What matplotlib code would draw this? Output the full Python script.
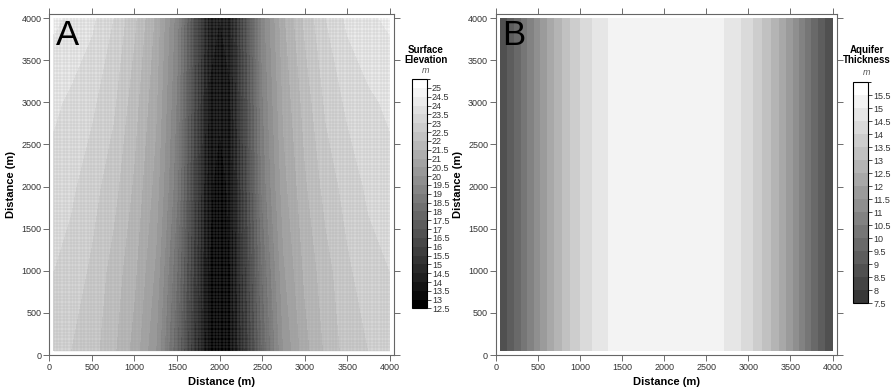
import numpy as np
import matplotlib
matplotlib.use("Agg")
import matplotlib.pyplot as plt
from matplotlib.colors import ListedColormap, BoundaryNorm
from matplotlib.cm import ScalarMappable

plt.rcParams['font.family'] = ['Liberation Sans', 'DejaVu Sans']

# Panel A: surface elevation (m), rows = y, cols = x
elev_x = [50, 250, 500, 750, 1000, 1250, 1500, 1750, 1875, 2000, 2125,
          2250, 2500, 2750, 3000, 3250, 3500, 3750, 4000]
elev_y = [50, 1000, 2000, 3000, 4000]
elev = [
    [23.2, 23.0, 22.7, 22.1, 21.3, 20.0, 17.5, 14.4, 12.9, 12.6, 12.9, 14.4, 17.5, 20.0, 21.3, 22.1, 22.7, 23.0, 23.3],
    [23.5, 23.3, 22.9, 22.3, 21.6, 20.4, 18.0, 14.7, 13.0, 12.7, 13.0, 14.7, 18.0, 20.4, 21.6, 22.3, 22.9, 23.3, 23.5],
    [23.8, 23.6, 23.2, 22.7, 21.9, 20.8, 18.6, 15.0, 13.1, 12.8, 13.1, 15.0, 18.6, 20.8, 21.9, 22.7, 23.2, 23.6, 23.8],
    [24.1, 23.9, 23.6, 23.1, 22.2, 21.1, 18.9, 15.3, 13.4, 13.1, 13.4, 15.3, 18.9, 21.1, 22.2, 23.1, 23.6, 23.9, 24.1],
    [24.6, 24.4, 24.1, 23.5, 22.6, 21.4, 19.2, 15.6, 13.8, 13.5, 13.8, 15.6, 19.2, 21.4, 22.6, 23.5, 24.1, 24.4, 24.6],
]
elev_levels = np.arange(12.5, 25.51, 0.5)

# Panel B: aquifer thickness (m), bands constant along y
thick_edges = [50, 137, 219, 297, 371, 454, 528, 606, 688, 786, 884, 997, 1138, 1333,
               2717, 2910, 3050, 3165, 3265, 3360, 3445, 3525, 3600, 3675, 3750, 3825, 3905, 4000]
thick = [8.75, 9.25, 9.75, 10.25, 10.75, 11.25, 11.75, 12.25, 12.75, 13.25, 13.75, 14.25, 14.75,
         15.25,
         14.75, 14.25, 13.75, 13.25, 12.75, 12.25, 11.75, 11.25, 10.75, 10.25, 9.75, 9.25, 8.75]
thick_y = [50, 4000]
thick_levels = np.arange(7.5, 16.01, 0.5)

ticks = [0, 500, 1000, 1500, 2000, 2500, 3000, 3500, 4000]


def grey_cmap(n, lo, hi):
    g = np.linspace(lo, hi, n) / 255.0
    return ListedColormap([(v, v, v) for v in g])


def style_axes(ax, letter):
    ax.set_xlim(0, 4050)
    ax.set_ylim(0, 4050)
    ax.set_xticks(ticks)
    ax.set_yticks(ticks)
    ax.tick_params(direction='out', length=4, width=0.6, colors='#555555',
                   labelcolor='#333333', labelsize=6.5, pad=1.5,
                   top=True, right=True)
    for s in ax.spines.values():
        s.set_color('#666666')
        s.set_linewidth(0.8)
    ax.set_xlabel('Distance (m)', fontsize=8, fontweight='bold', labelpad=4)
    ax.set_ylabel('Distance (m)', fontsize=8, fontweight='bold', labelpad=4)
    ax.text(0.02, 0.985, letter, transform=ax.transAxes, fontsize=25,
            va='top', ha='left', color='black')


def add_cbar(fig, rect, cmap, norm, levels, title, title_y, m_y):
    cax = fig.add_axes(rect)
    cb = fig.colorbar(ScalarMappable(norm=norm, cmap=cmap), cax=cax,
                      ticks=levels[:-1], spacing='uniform')
    cb.ax.set_yticklabels(['%g' % v for v in levels[:-1]])
    cb.ax.tick_params(length=3, width=0.6, labelsize=6.5, pad=0.5,
                      colors='#333333')
    cb.outline.set_linewidth(0.8)
    xc = rect[0] + rect[2] * 0.9
    fig.text(xc, title_y, title, ha='center', va='top', fontsize=7,
             fontweight='bold', linespacing=1.1)
    fig.text(xc, m_y, 'm', ha='center', va='center', fontsize=6.5,
             style='italic', color='#555555')


fig = plt.figure(figsize=(8.93, 3.88), dpi=100)

# ---- A
axA = fig.add_axes([0.0552, 0.085, 0.3863, 0.879])
cmapA = grey_cmap(len(elev_levels) - 1, 0, 255)
normA = BoundaryNorm(elev_levels, cmapA.N)
axA.contourf(elev_x, elev_y, np.array(elev), levels=elev_levels,
             cmap=cmapA, norm=normA)
mesh = np.arange(50, 4001, 40)
axA.vlines(mesh, 50, 4000, colors='#9a9a9a', linewidth=0.35, alpha=0.45)
axA.hlines(mesh, 50, 4000, colors='#9a9a9a', linewidth=0.35, alpha=0.45)
style_axes(axA, 'A')
add_cbar(fig, [0.4615, 0.205, 0.0168, 0.591], cmapA, normA, elev_levels,
         'Surface\nElevation', 0.885, 0.818)

# ---- B
axB = fig.add_axes([0.5551, 0.085, 0.3819, 0.879])
cmapB = grey_cmap(len(thick_levels) - 1, 55, 255)
normB = BoundaryNorm(thick_levels, cmapB.N)
axB.pcolormesh(thick_edges, thick_y, np.array([thick]), cmap=cmapB, norm=normB)
style_axes(axB, 'B')
add_cbar(fig, [0.9555, 0.219, 0.0168, 0.569], cmapB, normB, thick_levels,
         'Aquifer\nThickness', 0.885, 0.813)

fig.savefig('out.png', dpi=100)
